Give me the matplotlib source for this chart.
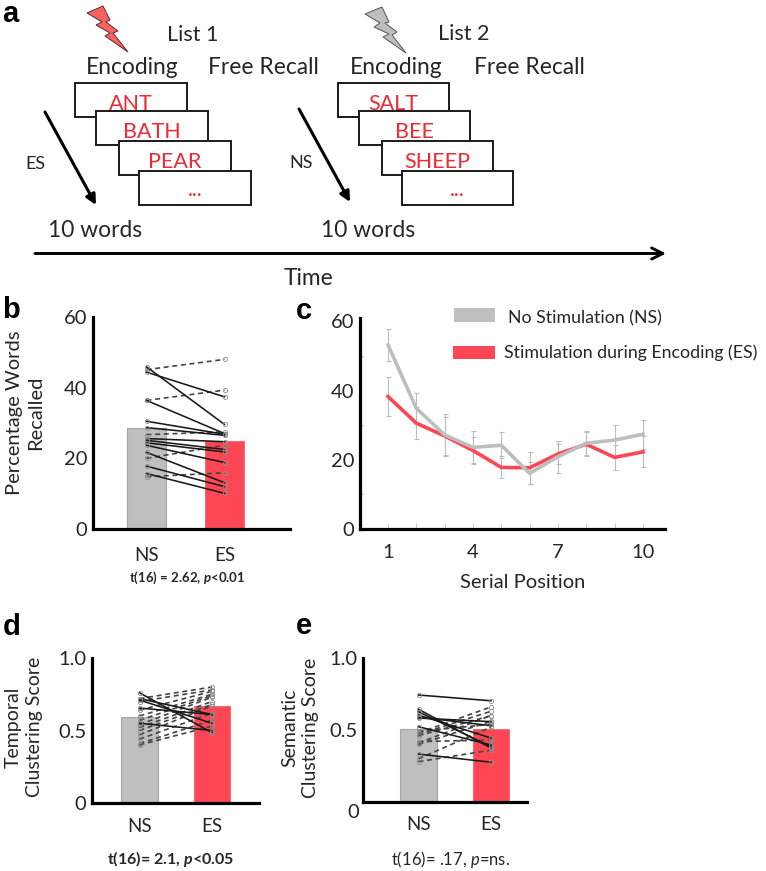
#!/usr/bin/env python3
"""Recreates the five panel free recall stimulation figure."""

import matplotlib
matplotlib.use('Agg')
import matplotlib.pyplot as plt
from matplotlib.patches import Polygon, Rectangle, FancyArrowPatch

plt.rcParams['font.family'] = ['Lato', 'DejaVu Sans']
plt.rcParams['mathtext.fontset'] = 'custom'
plt.rcParams['mathtext.rm'] = 'Lato'
plt.rcParams['mathtext.it'] = 'Lato:italic'
plt.rcParams['mathtext.bf'] = 'Lato:bold'
plt.rcParams['mathtext.bfit'] = 'Lato:italic:bold'

W, H = 766, 871
GRAY = '#BFBFBF'
GRAY_EDGE = '#A6A6A6'
RED = '#FF4655'
RED_EDGE = '#E8707A'
TEXT = '#262626'
WORD_RED = '#EE2A35'

conditions = ['NS', 'ES']

# panel b
recall_means = [28.6, 25.0]
recall_solid_ns = [44.4, 45.9, 36.4, 30.5, 28.7, 25.6, 25.1, 24.4, 23.7, 21.7, 17.8, 15.7]
recall_solid_es = [37.4, 29.6, 27.0, 26.8, 26.5, 24.7, 22.5, 21.8, 18.8, 13.1, 12.0, 10.1]
recall_dash_ns = [45.1, 36.4, 26.7, 20.0, 14.8]
recall_dash_es = [48.0, 39.3, 27.5, 23.7, 15.9]

# panel c
positions = [1, 2, 3, 4, 5, 6, 7, 8, 9, 10]
curve_ns = [53.2, 34.9, 27.2, 23.6, 24.2, 16.1, 20.9, 24.8, 25.7, 27.4]
curve_es = [38.3, 30.6, 26.9, 22.7, 17.8, 17.7, 21.7, 24.5, 20.7, 22.3]
err_ns = [4.6, 4.5, 6.0, 4.6, 3.7, 3.2, 4.6, 3.5, 4.5, 4.2]
err_es = [5.5, 4.6, 5.4, 3.9, 3.2, 4.6, 3.0, 3.4, 3.7, 4.5]

# panel d
temporal_means = [0.593, 0.669]
temporal_solid_ns = [0.76, 0.72, 0.71, 0.655, 0.55]
temporal_solid_es = [0.485, 0.61, 0.55, 0.61, 0.50]
temporal_dash_ns = [0.72, 0.70, 0.64, 0.60, 0.57, 0.54, 0.52, 0.50, 0.47, 0.44, 0.41, 0.40]
temporal_dash_es = [0.80, 0.78, 0.77, 0.75, 0.74, 0.73, 0.70, 0.68, 0.67, 0.62, 0.57, 0.53]

# panel e
semantic_means = [0.505, 0.507]
semantic_solid_ns = [0.743, 0.644, 0.627, 0.604, 0.590, 0.583, 0.523, 0.333]
semantic_solid_es = [0.703, 0.375, 0.384, 0.444, 0.530, 0.558, 0.396, 0.276]
semantic_dash_ns = [0.49, 0.48, 0.47, 0.46, 0.42, 0.41, 0.40, 0.30, 0.28]
semantic_dash_es = [0.54, 0.66, 0.63, 0.60, 0.43, 0.60, 0.56, 0.52, 0.36]

# panel a
list1_words = ['ANT', 'BATH', 'PEAR', '...']
list2_words = ['SALT', 'BEE', 'SHEEP', '...']


def pixel_axes(fig, left, right, top, bottom):
    """Axes placed by pixel edges of the figure."""
    return fig.add_axes([left / W, 1 - bottom / H, (right - left) / W, (bottom - top) / H])


def style_axes(ax):
    for side in ['top', 'right']:
        ax.spines[side].set_visible(False)
    for side in ['left', 'bottom']:
        ax.spines[side].set_linewidth(2.3)
        ax.spines[side].set_color('black')
    ax.patch.set_alpha(0)
    ax.tick_params(axis='y', length=0, pad=4, labelsize=14.5, labelcolor=TEXT)
    ax.tick_params(axis='x', labelcolor=TEXT)


def paired_bars(ax, means, solid_ns, solid_es, dash_ns, dash_es, width, xpad):
    ax.bar([0], means[0], width, color=GRAY, edgecolor=GRAY_EDGE, linewidth=0.8, zorder=1)
    ax.bar([1], means[1], width, color=RED, edgecolor=RED_EDGE, linewidth=0.8, zorder=1)
    for a, b in zip(dash_ns, dash_es):
        ax.plot([0, 1], [a, b], color='#444444', lw=1.2, ls=(0, (3, 2.2)), marker='o', ms=3,
                mfc='none', mec='#8C8C8C', mew=0.6, zorder=3)
    for a, b in zip(solid_ns, solid_es):
        ax.plot([0, 1], [a, b], color='#1A1A1A', lw=1.15, marker='o', ms=3,
                mfc='none', mec='#8C8C8C', mew=0.6, zorder=4)
    ax.set_xticks([0, 1], conditions)
    style_axes(ax)
    ax.tick_params(axis='x', length=0, pad=xpad, labelsize=13.5)


def label_y(ax, text, x_px, y_px, left, right, top, bottom, size):
    ax.set_ylabel(text, fontsize=size, color=TEXT, linespacing=1.3, ha='center', va='center')
    ax.yaxis.set_label_coords((x_px - left) / (right - left), (bottom - y_px) / (bottom - top))


fig = plt.figure(figsize=(W / 100, H / 100), dpi=100, facecolor='white')

# overlay in pixel units, used for the schematic and free text
over = fig.add_axes([0, 0, 1, 1], zorder=10)
over.set_xlim(0, W)
over.set_ylim(H, 0)
over.axis('off')
over.patch.set_alpha(0)


def word_stack(x0, words):
    offsets = [(0, 83), (21, 111), (44, 141), (64, 171)]
    for i, (word, (dx, dy)) in enumerate(zip(words, offsets)):
        z = 2 + i * 2
        over.add_patch(Rectangle((x0 + dx, dy), 111.5, 34, facecolor='white', edgecolor='#1A1A1A',
                                 linewidth=1.4, zorder=z))
        over.text(x0 + dx + 56, dy + 21 if word != '...' else dy + 19, word, color=WORD_RED,
                  fontsize=15.5 if word != '...' else 15, ha='center', va='center', zorder=z + 1)


word_stack(75, list1_words)
word_stack(337.5, list2_words)

red_bolt = [(87, 13), (103, 6), (110, 20), (106, 22), (118, 31), (113, 33), (128, 52),
            (105, 36), (110, 33), (96, 25), (102, 22)]
gray_bolt = [(365, 14), (382, 7), (389, 22), (385, 23), (397, 32), (392, 35), (406, 53),
             (383, 37), (389, 34), (374, 27), (380, 23)]
over.add_patch(Polygon(red_bolt, closed=True, facecolor='#F8635F', edgecolor='#5A2A2A', linewidth=0.7))
over.add_patch(Polygon(gray_bolt, closed=True, facecolor='#BDBDBD', edgecolor='#555555', linewidth=0.7))

list_text = [('List 1', 193, 35), ('List 2', 464, 34)]
schematic_text = [('Encoding', 132, 67), ('Free Recall', 263, 67),
                  ('Encoding', 396, 67), ('Free Recall', 529, 67),
                  ('10 words', 95, 230), ('10 words', 368, 230), ('Time', 308, 278)]
for s, x, y in list_text:
    over.text(x, y, s, fontsize=15.5, color=TEXT, ha='center', va='center')
for s, x, y in schematic_text:
    over.text(x, y, s, fontsize=16.4, color=TEXT, ha='center', va='center')
over.text(35, 164, 'ES', fontsize=13, color=TEXT, ha='center', va='center')
over.text(301, 163, 'NS', fontsize=13, color=TEXT, ha='center', va='center')

for start, end in [((45, 112), (96, 205)), ((299, 109), (350, 202))]:
    over.add_patch(FancyArrowPatch(start, end, arrowstyle='-|>', mutation_scale=15, linewidth=2.2,
                                   color='black', shrinkA=0, shrinkB=0))
over.add_patch(FancyArrowPatch((35, 253.5), (666, 253.5), arrowstyle='->', mutation_scale=20,
                               linewidth=2.1, color='black', shrinkA=0, shrinkB=0))

panel_letters = [('a', 2, 22), ('b', 2, 318), ('c', 296, 319), ('d', 3, 635), ('e', 296, 634)]
for s, x, y in panel_letters:
    over.text(x, y, s, fontsize=21, fontweight='bold', family='Liberation Sans', color='black',
              ha='left', va='baseline')

# panel b
L, R, T, B = 93, 290, 317, 529
ax_b = pixel_axes(fig, L, R, T, B)
paired_bars(ax_b, recall_means, recall_solid_ns, recall_solid_es, recall_dash_ns, recall_dash_es, 0.5, 13)
ax_b.set_xlim(-(146.5 - L) / 78, (R - 146.5) / 78)
ax_b.set_ylim(0, 60)
ax_b.set_yticks([0, 20, 40, 60])
label_y(ax_b, 'Percentage Words\nRecalled', 25, 413, L, R, T, B, 14.5)
over.text(187, 578, r't(16) = 2.62, $\mathbfit{p}$<0.01', fontsize=9.5, fontweight='bold', color=TEXT,
          ha='center', va='center')

# panel c
L, R, T, B = 360, 665, 318, 529
ax_c = pixel_axes(fig, L, R, T, B)
ax_c.errorbar(positions, curve_es, yerr=err_es, color='#BDBDBD', lw=0, elinewidth=0.8, capsize=1.8,
              capthick=0.8, zorder=2)
ax_c.errorbar(positions, curve_ns, yerr=err_ns, color='#BDBDBD', lw=0, elinewidth=0.8, capsize=1.8,
              capthick=0.8, zorder=2)
ax_c.plot(positions, curve_es, color=RED, lw=2.6, zorder=3, solid_joinstyle='miter')
ax_c.plot(positions, curve_ns, color='#BEBEBE', lw=2.6, zorder=4, solid_joinstyle='miter')
ax_c.set_xlim(1 - (388 - L) / 28.33, 1 + (R - 388) / 28.33)
ax_c.set_ylim(0, 61)
style_axes(ax_c)
ax_c.set_yticks([0, 20, 40, 60])
ax_c.set_yticks([10, 30, 50], minor=True)
ax_c.set_xticks(positions, ['1', '', '', '4', '', '', '7', '', '', '10'])
ax_c.tick_params(axis='x', direction='in', length=4, width=0.6, color='#BDBDBD', pad=11, labelsize=14.5)
ax_c.tick_params(axis='y', which='minor', direction='in', length=3, width=0.6, color='#BDBDBD')
ax_c.set_xlabel('Serial Position', fontsize=14.5, color=TEXT)
ax_c.xaxis.set_label_coords((523 - L) / (R - L), (B - 582) / (B - T))
ax_c.xaxis.label.set_va('center')

over.add_patch(Rectangle((454, 308), 41, 14, facecolor=GRAY, edgecolor='none'))
over.add_patch(Rectangle((453, 346), 42, 13, facecolor=RED, edgecolor='none'))
over.text(508, 318, 'No Stimulation (NS)', fontsize=12.8, color=TEXT, ha='left', va='center')
over.text(504, 353, 'Stimulation during Encoding (ES)', fontsize=12.8, color=TEXT, ha='left', va='center')

# panel d
L, R, T, B = 92, 259, 658, 803
ax_d = pixel_axes(fig, L, R, T, B)
paired_bars(ax_d, temporal_means, temporal_solid_ns, temporal_solid_es, temporal_dash_ns, temporal_dash_es, 0.51, 11)
ax_d.set_xlim(-(139.5 - L) / 72.5, (R - 139.5) / 72.5)
ax_d.set_ylim(0, 1)
ax_d.set_yticks([0, 0.5, 1.0], ['0', '0.5', '1.0'])
label_y(ax_d, 'Temporal\nClustering Score', 24, 727, L, R, T, B, 14)
over.text(171, 859, r't(16)= 2.1, $\mathbfit{p}$<0.05', fontsize=11.5, fontweight='bold', color=TEXT,
          ha='center', va='center')

# panel e
L, R, T, B = 363, 527, 658, 802
ax_e = pixel_axes(fig, L, R, T, B)
paired_bars(ax_e, semantic_means, semantic_solid_ns, semantic_solid_es, semantic_dash_ns, semantic_dash_es, 0.51, 10)
ax_e.set_xlim(-(418.5 - L) / 72.5, (R - 418.5) / 72.5)
ax_e.set_ylim(0, 1)
ax_e.set_yticks([0.5, 1.0], ['0.5', '1.0'])
over.text(353, 812, '0', fontsize=14.5, color=TEXT, ha='center', va='center')
label_y(ax_e, 'Semantic\nClustering Score', 300, 728, L, R, T, B, 14)
over.text(451, 859, r't(16)= .17, $\mathit{p}$=ns.', fontsize=12, color=TEXT, ha='center', va='center')

fig.savefig('out.png', dpi=100, facecolor='white')
plt.close(fig)
